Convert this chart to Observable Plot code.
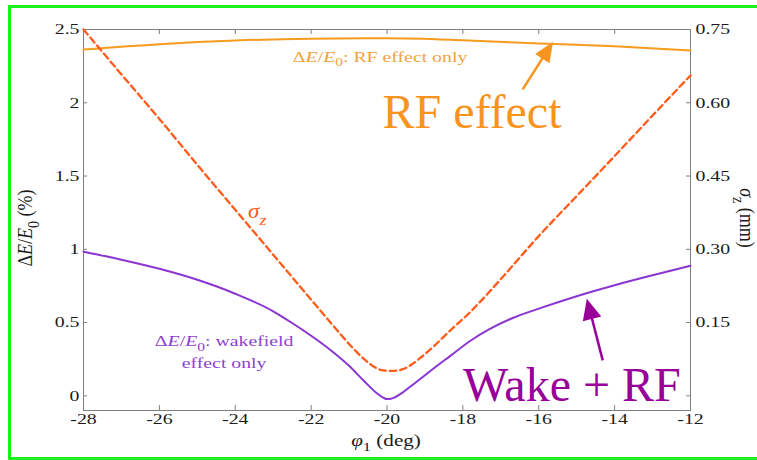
<!DOCTYPE html>
<html><head><meta charset="utf-8">
<script src="https://cdn.jsdelivr.net/npm/d3@7"></script>
<script src="https://cdn.jsdelivr.net/npm/@observablehq/plot@0.6"></script>
<style>
html,body{margin:0;padding:0;background:#fff;}
svg{display:block}
svg text, svg tspan { font-family: "Liberation Serif", "Tinos", "Times New Roman", "Nimbus Roman", "DejaVu Serif", serif !important; }
</style>
</head><body><div id="chart"></div>
<script>
// ---- data ----
const phiRF = [-28, -26, -24, -22, -20, -18, -16, -14, -12];
const rfOnly = [2.363, 2.400, 2.425, 2.437, 2.440, 2.427, 2.405, 2.385, 2.357]; // ΔE/E0 (%)

const phiWake = [-28, -27, -26, -25, -24, -23, -22.5, -22, -21.5, -21, -20.6, -20.3, -20.1, -20, -19.9, -19.8, -19.6, -19.4, -19.1, -18.85, -18.33, -17.8, -17.3, -16.67, -16, -15, -14, -13, -12];
const wakeRF = [0.984, 0.929, 0.867, 0.792, 0.697, 0.577, 0.497, 0.41, 0.315, 0.205, 0.10, 0.025, -0.012, -0.022, -0.02, -0.011, 0.02, 0.06, 0.12, 0.171, 0.273, 0.376, 0.455, 0.533, 0.595, 0.68, 0.755, 0.823, 0.888]; // ΔE/E0 (%)

const phiSigma = [-28, -27, -26, -25, -24, -23, -22, -21.5, -21.2, -20.9, -20.6, -20.35, -20.1, -19.85, -19.6, -19.35, -19.1, -18.8, -18.4, -17.8, -17.36, -17, -16, -15, -14, -13, -12];
const sigmaZ = [0.75, 0.658, 0.567, 0.473, 0.381, 0.289, 0.197, 0.151, 0.124, 0.098, 0.075, 0.06, 0.052, 0.051, 0.054, 0.064, 0.079, 0.099, 0.129, 0.172, 0.208, 0.239, 0.327, 0.409, 0.491, 0.574, 0.656]; // mm

const xTicks = [-28, -26, -24, -22, -20, -18, -16, -14, -12];
const leftTicks = [0, 0.5, 1, 1.5, 2, 2.5];
const leftTickLabels = ["0", "0.5", "1", "1.5", "2", "2.5"];
const rightTicks = [0, 0.15, 0.30, 0.45, 0.60, 0.75];
const rightTickLabels = ["", "0.15", "0.30", "0.45", "0.60", "0.75"];
const MM_PER_PERCENT = 0.3; // right axis (mm) = left axis (%) * 0.3

// ---- build ----
const rf = phiRF.map((x, i) => ({x, y: rfOnly[i]}));
const wake = phiWake.map((x, i) => ({x, y: wakeRF[i]}));
const sig = phiSigma.map((x, i) => ({x, y: sigmaZ[i] / MM_PER_PERCENT}));

const serif = "'Liberation Serif', Tinos, 'Times New Roman', 'Nimbus Roman', 'DejaVu Serif', serif";
const SX = 1.32; // horizontal stretch of the figure's own text
const gray = "#7f7f7f";

const chart = Plot.plot({
  width: 757, height: 460,
  marginLeft: 83, marginRight: 67, marginTop: 29, marginBottom: 50,
  style: {fontFamily: serif, background: "white"},
  x: {domain: [-28, -12], axis: null},
  y: {domain: [-0.1, 2.5], axis: null},
  marks: [
    Plot.frame({stroke: gray, strokeWidth: 1}),
    Plot.ruleX(xTicks, {x: d => d, insetTop: 376, stroke: gray}),
    Plot.ruleX(xTicks, {x: d => d, insetBottom: 376, stroke: gray}),
    Plot.ruleY(leftTicks, {y: d => d, insetRight: 603, stroke: gray}),
    Plot.ruleY(rightTicks, {y: d => d / MM_PER_PERCENT, insetLeft: 603, stroke: gray}),
    Plot.line(rf, {x: "x", y: "y", stroke: "#F59B1E", strokeWidth: 2, curve: "monotone-x"}),
    Plot.line(wake, {x: "x", y: "y", stroke: "#8A35D2", strokeWidth: 2, curve: "monotone-x"}),
    Plot.line(sig, {x: "x", y: "y", stroke: "#FF5B1A", strokeWidth: 2.3, strokeDasharray: "6.5,4", curve: "monotone-x"}),
    Plot.text(xTicks, {x: d => d, frameAnchor: "bottom", dy: 13, text: d => String(d), fontSize: 15, fill: "#1a1a1a"}),
    Plot.text(leftTicks, {y: d => d, frameAnchor: "left", dx: -4, textAnchor: "end", text: (d, i) => leftTickLabels[i], fontSize: 15, fill: "#1a1a1a"}),
    Plot.text(rightTicks, {y: d => d / MM_PER_PERCENT, frameAnchor: "right", dx: 5, textAnchor: "start", text: (d, i) => rightTickLabels[i], fontSize: 15, fill: "#1a1a1a"}),
    Plot.text(["RF effect"], {x: -20.12, y: 1.83, text: d => d, textAnchor: "start", lineAnchor: "bottom", fontSize: 48, fill: "#F7941D"}),
    Plot.text(["Wake + RF"], {x: -18.0, y: -0.034, text: d => d, textAnchor: "start", lineAnchor: "bottom", fontSize: 48, fill: "#990099"})
  ]
});
document.getElementById("chart").appendChild(chart);

// stretch the figure's small text horizontally
const svg = d3.select(chart);
svg.selectAll("g[font-size='15'] text, text[font-size='15']").each(function() {
  const t = this.getAttribute("transform");
  if (t) this.setAttribute("transform", t + ` scale(${SX},1)`);
  else {
    const x = +this.getAttribute("x") || 0, y = +this.getAttribute("y") || 0;
    this.setAttribute("transform", `translate(${x},${y}) scale(${SX},1) translate(${-x},${-y})`);
  }
});

const xs = chart.scale("x"), ys = chart.scale("y");
const fx = xs.apply ? v => xs.apply(v) : d3.scaleLinear(xs.domain, xs.range);
const fy = ys.apply ? v => ys.apply(v) : d3.scaleLinear(ys.domain, ys.range);

function richText(parts, {x, y, anchor = "start", size = 15, fill = "#1a1a1a", sx = SX, rotate = 0}) {
  const t = svg.append("text")
    .attr("transform", `translate(${x},${y}) scale(${sx},1)` + (rotate ? ` rotate(${rotate})` : ""))
    .attr("text-anchor", anchor).attr("font-size", size).attr("fill", fill).attr("font-family", serif);
  let shift = 0;
  for (const p of parts) {
    const ts = t.append("tspan").text(p.t);
    if (p.i) ts.attr("font-style", "italic");
    if (p.sub) { shift = size * 0.32; ts.attr("dy", shift).attr("font-size", size * 0.78); }
    else if (shift) { ts.attr("dy", -shift); shift = 0; }
  }
  return t;
}

function arrow(x1, y1, x2, y2, color, headLen, headW, sw) {
  const X1 = fx(x1), Y1 = fy(y1), X2 = fx(x2), Y2 = fy(y2);
  const dx = X2 - X1, dy = Y2 - Y1, L = Math.hypot(dx, dy), ux = dx / L, uy = dy / L;
  const bx = X2 - ux * headLen, by = Y2 - uy * headLen;
  svg.append("line").attr("x1", X1).attr("y1", Y1).attr("x2", bx + ux * 2).attr("y2", by + uy * 2)
    .attr("stroke", color).attr("stroke-width", sw);
  svg.append("path").attr("fill", color)
    .attr("d", `M${X2},${Y2}L${bx - uy * headW / 2},${by + ux * headW / 2}L${bx + uy * headW / 2},${by - ux * headW / 2}Z`);
}

// annotations
richText([{t: "Δ"}, {t: "E", i: 1}, {t: "/"}, {t: "E", i: 1}, {t: "0", sub: 1}, {t: ": RF effect only"}],
  {x: fx(-20.17), y: fy(2.277), anchor: "middle", fill: "#F2A23C"});
richText([{t: "Δ"}, {t: "E", i: 1}, {t: "/"}, {t: "E", i: 1}, {t: "0", sub: 1}, {t: ": wakefield"}],
  {x: fx(-24.28), y: fy(0.337), anchor: "middle", fill: "#8E3FD2"});
richText([{t: "effect only"}], {x: fx(-24.28), y: fy(0.184), anchor: "middle", fill: "#8E3FD2"});
richText([{t: "σ", i: 1}, {t: "z", i: 1, sub: 1}], {x: fx(-23.65), y: fy(1.209), size: 20, fill: "#FF5B1A", sx: 1.15});

arrow(-16.41, 2.088, -15.61, 2.413, "#F7941D", 20, 17, 2.5);
arrow(-14.30, 0.239, -14.72, 0.660, "#990099", 21, 19, 2.5);

// axis titles
richText([{t: "Δ"}, {t: "E", i: 1}, {t: "/"}, {t: "E", i: 1}, {t: "0", sub: 1}, {t: " (%)"}],
  {x: 32, y: 228, anchor: "middle", size: 18, rotate: -90, sx: 1.15});
richText([{t: "σ", i: 1}, {t: "z", sub: 1}, {t: " (mm)"}],
  {x: 740, y: 218, anchor: "middle", size: 18, rotate: 90, sx: 1.15});
richText([{t: "φ", i: 1}, {t: "1", sub: 1}, {t: " (deg)"}],
  {x: 386, y: 446, anchor: "middle", size: 16});

// green border
svg.append("path").attr("fill", "none").attr("stroke", "#1AF01A").attr("stroke-width", 3)
  .attr("d", "M760,6.5H9.5V458.5H760");
</script></body></html>
